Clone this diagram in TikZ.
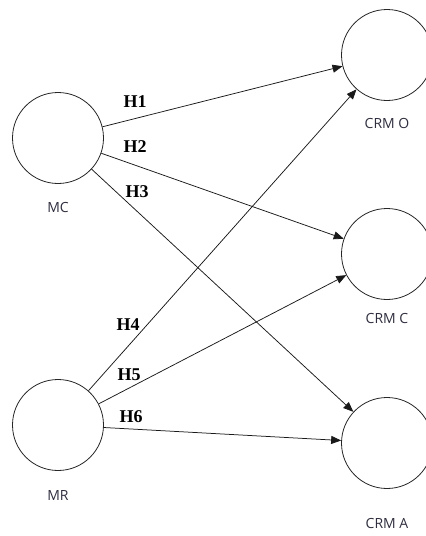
\documentclass[tikz,border=0pt]{standalone}
\usepackage{fontspec}
\setmainfont{Liberation Serif}
\newfontfamily\lblfont{Open Sans}
\usetikzlibrary{arrows.meta}
\definecolor{lblgray}{HTML}{2E2E3E}
\tikzset{
  latent/.style={circle, draw=black!85, line width=0.8pt, minimum size=91pt, inner sep=0pt},
  vlabel/.style={font=\lblfont\fontsize{14}{16}\selectfont, text=lblgray, inner sep=0pt},
  hyp/.style={font=\bfseries\fontsize{18}{20}\selectfont, inner sep=0pt},
  path/.style={draw=black!90, line width=0.75pt, -{Triangle[length=10pt,width=8pt]}}
}
\begin{document}
\begin{tikzpicture}[x=1pt,y=-1pt]
\useasboundingbox (0,0) rectangle (426,536);
\clip (0,0) rectangle (426,536);
\node[latent] (MC) at (58,138) {};
\node[latent] (MR) at (58,425) {};
\node[latent] (CO) at (387,55) {};
\node[latent] (CC) at (387,254) {};
\node[latent] (CA) at (387,443) {};
\node[vlabel] (lMC) at (58,207) {MC};
\node[vlabel] (lMR) at (58,495) {MR};
\node[vlabel] (lCO) at (387,123) {CRM O};
\node[vlabel] (lCC) at (387,318) {CRM C};
\node[vlabel] (lCA) at (387,523) {CRM A};
\draw[path] (MC) -- (CO);
\draw[path] (MC) -- (CC);
\draw[path] (MC) -- (CA);
\draw[path] (MR) -- (CO);
\draw[path] (MR) -- (CC);
\draw[path] (MR) -- (CA);
\node[hyp] (h1) at (135,102) {H1};
\node[hyp] (h2) at (135,147) {H2};
\node[hyp] (h3) at (137,192) {H3};
\node[hyp] (h4) at (128,325) {H4};
\node[hyp] (h5) at (129,375) {H5};
\node[hyp] (h6) at (131,417) {H6};
\end{tikzpicture}
\end{document}
